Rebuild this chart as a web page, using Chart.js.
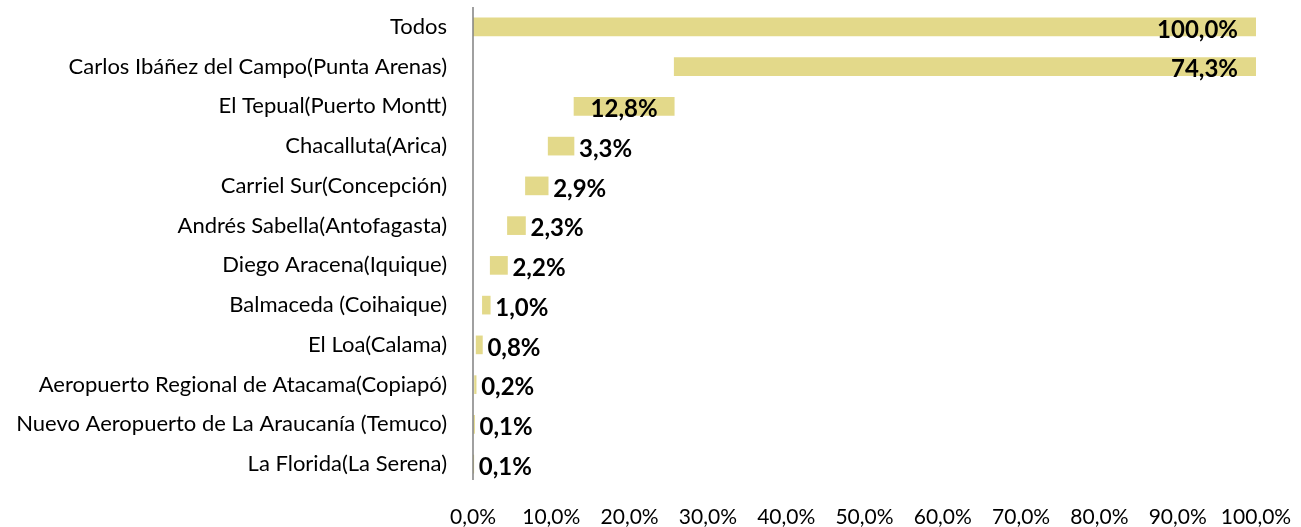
<!DOCTYPE html>
<html>
<head>
<meta charset="utf-8">
<script src="https://cdn.jsdelivr.net/npm/chart.js@4.4.1/dist/chart.umd.min.js"></script>
<style>
    html, body { margin: 0; padding: 0; background: #fff; }
    #wrap { width: 1301px; height: 527px; }
</style>
</head>
<body>
<div id="wrap"><canvas id="chart" width="1301" height="527"></canvas></div>
<script>
// Airports and their share (%), top to bottom
const airports = [
    "Todos",
    "Carlos Ibáñez del Campo(Punta Arenas)",
    "El Tepual(Puerto Montt)",
    "Chacalluta(Arica)",
    "Carriel Sur(Concepción)",
    "Andrés Sabella(Antofagasta)",
    "Diego Aracena(Iquique)",
    "Balmaceda (Coihaique)",
    "El Loa(Calama)",
    "Aeropuerto Regional de Atacama(Copiapó)",
    "Nuevo Aeropuerto de La Araucanía (Temuco)",
    "La Florida(La Serena)"
];
const shares = [100.0, 74.3, 12.8, 3.3, 2.9, 2.3, 2.2, 1.0, 0.8, 0.2, 0.1, 0.1];
const xTicks = [0, 10, 20, 30, 40, 50, 60, 70, 80, 90, 100];

// waterfall: each airport sits on top of the ones below it, "Todos" starts at 0
let ranges = [];
let base = 0;
for (let i = shares.length - 1; i >= 1; i--) {
    ranges[i] = [base, base + shares[i]];
    base += shares[i];
}
ranges[0] = [0, shares[0]];

function fmt(v) {
    return v.toFixed(1).replace(".", ",") + "%";
}

// vertical axis line, only as tall as the plot area
const axisLine = {
    id: "axisLine",
    afterDatasetsDraw(chart) {
        const ctx = chart.ctx;
        const area = chart.chartArea;
        ctx.save();
        ctx.strokeStyle = "#808080";
        ctx.lineWidth = 1.5;
        ctx.beginPath();
        ctx.moveTo(area.left, area.top);
        ctx.lineTo(area.left, area.bottom - 4);
        ctx.stroke();
        ctx.restore();
    }
};

// value labels next to / inside the bars
const barLabels = {
    id: "barLabels",
    afterDatasetsDraw(chart) {
        const ctx = chart.ctx;
        const meta = chart.getDatasetMeta(0);
        ctx.save();
        ctx.font = "bold 24px Lato";
        ctx.fillStyle = "#000";
        ctx.textBaseline = "middle";
        meta.data.forEach((bar, i) => {
            let w = bar.x - bar.base;
            let y = bar.y + 3;
            if (w > 300) {
                ctx.textAlign = "right";
                ctx.fillText(fmt(shares[i]), bar.x - 18, y);
            } else if (w > 80) {
                ctx.textAlign = "center";
                ctx.fillText(fmt(shares[i]), (bar.x + bar.base) / 2, y);
            } else {
                ctx.textAlign = "left";
                ctx.fillText(fmt(shares[i]), bar.x + 5, y);
            }
        });
        ctx.restore();
    }
};

new Chart(document.getElementById("chart").getContext("2d"), {
    type: "bar",
    data: {
        labels: airports,
        datasets: [{
            data: ranges,
            backgroundColor: "#e3d98a",
            borderWidth: 0,
            barThickness: 18
        }]
    },
    options: {
        indexAxis: "y",
        responsive: false,
        animation: false,
        layout: { padding: { top: 7, right: 45, left: 0, bottom: 0 } },
        plugins: {
            legend: { display: false },
            tooltip: { enabled: false }
        },
        scales: {
            x: {
                min: 0,
                max: 100,
                afterBuildTicks(scale) {
                    scale.ticks = xTicks.map(v => ({ value: v }));
                },
                afterFit(scale) {
                    scale.height = 43;
                    scale.paddingLeft = 0;
                    scale.paddingRight = 0;
                },
                grid: { display: false, drawTicks: false },
                border: { display: false },
                ticks: {
                    padding: 21,
                    color: "#000",
                    maxRotation: 0,
                    font: { family: "Lato", size: 21 },
                    callback: v => fmt(v)
                }
            },
            y: {
                afterFit(scale) {
                    scale.width = 473;
                    scale.paddingTop = 0;
                    scale.paddingBottom = 0;
                },
                grid: { display: false, drawTicks: false },
                border: { display: false },
                ticks: {
                    padding: 26,
                    color: "#000",
                    font: { family: "Lato", size: 22 }
                }
            }
        }
    },
    plugins: [axisLine, barLabels]
});
</script>
</body>
</html>
